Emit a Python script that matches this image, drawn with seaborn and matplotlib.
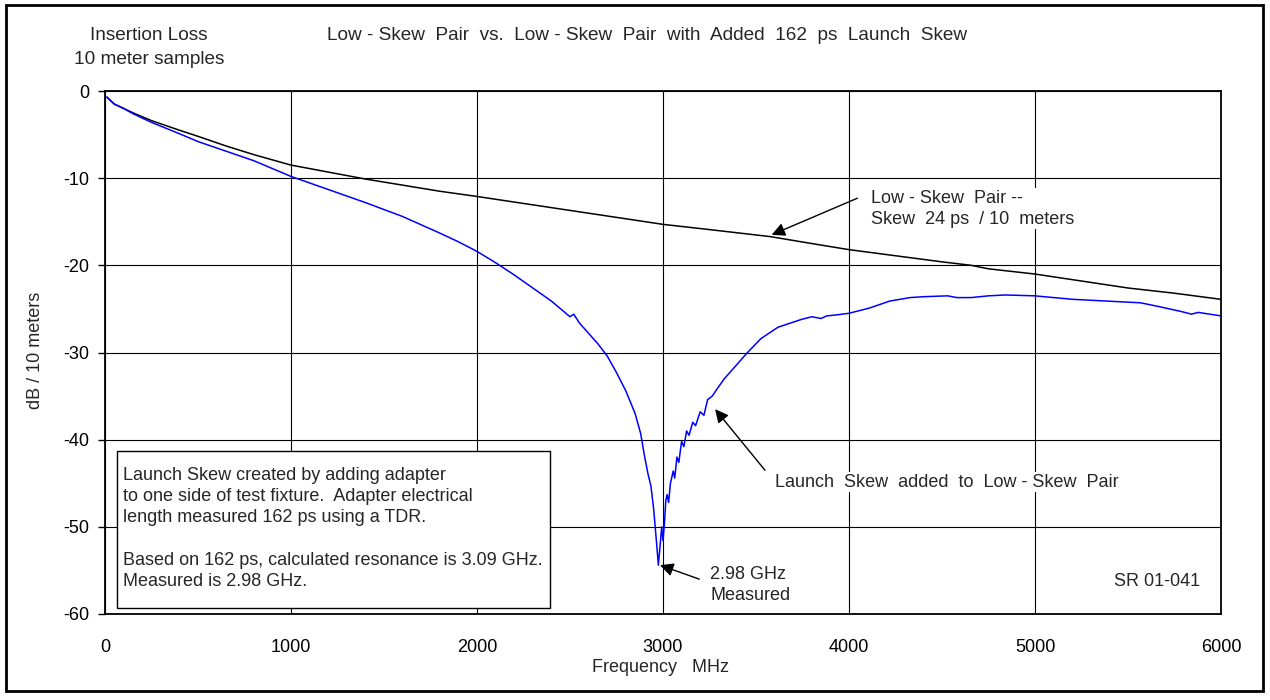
import matplotlib
matplotlib.use('Agg')
import matplotlib.pyplot as plt
from matplotlib.patches import Rectangle
import pandas as pd
import seaborn as sns

# Low-Skew pair (black trace)
pair_freq = [10, 50, 100, 150, 250, 400, 500, 650, 800, 1000, 1200, 1400, 1600, 1800,
             2000, 2250, 2500, 2750, 3000, 3250, 3575, 3800, 4000, 4250, 4500, 4657,
             4750, 5000, 5250, 5500, 5750, 6000]
pair_db = [-0.7, -1.5, -2.0, -2.5, -3.4, -4.5, -5.2, -6.3, -7.3, -8.5, -9.3, -10.1, -10.8, -11.5,
           -12.1, -12.9, -13.7, -14.5, -15.3, -15.9, -16.7, -17.5, -18.2, -18.9, -19.6, -20.0,
           -20.4, -21.0, -21.8, -22.6, -23.2, -23.9]

# same pair with added 162 ps launch skew (blue trace)
skew_freq = [10, 50, 100, 150, 250, 400, 500, 650, 800, 1000, 1200, 1400, 1600, 1800, 1900,
             2000, 2100, 2200, 2300, 2400, 2450, 2500, 2520, 2550, 2600, 2650, 2700, 2750,
             2800, 2850, 2880, 2900, 2920, 2935, 2950, 2960, 2968, 2975, 2985, 2993, 3000,
             3008, 3015, 3022, 3030, 3040, 3055, 3063, 3075, 3085, 3100, 3112, 3127, 3140,
             3160, 3175, 3200, 3220, 3240, 3265, 3290, 3330, 3380, 3450, 3527, 3618, 3745,
             3800, 3850, 3880, 3928, 4000, 4110, 4219, 4329, 4400, 4530, 4580, 4657, 4750,
             4839, 5000, 5100, 5204, 5386, 5568, 5659, 5787, 5841, 5878, 6000]
skew_db = [-0.7, -1.5, -2.0, -2.6, -3.6, -4.9, -5.8, -6.9, -8.0, -9.8, -11.3, -12.8, -14.4, -16.3, -17.3,
           -18.4, -19.7, -21.1, -22.6, -24.1, -25.0, -25.9, -25.6, -26.6, -27.8, -29.0, -30.4, -32.3,
           -34.4, -37.0, -39.3, -41.8, -44.0, -45.3, -48.0, -50.5, -52.5, -54.4, -52.0, -50.0, -51.6,
           -49.5, -47.0, -46.3, -47.2, -45.0, -43.6, -44.4, -42.0, -42.6, -40.2, -40.8, -39.0, -39.5,
           -38.0, -38.4, -36.8, -37.2, -35.4, -35.0, -34.2, -33.0, -31.8, -30.1, -28.4, -27.1, -26.2,
           -25.9, -26.1, -25.8, -25.7, -25.5, -24.9, -24.1, -23.7, -23.6, -23.5, -23.7, -23.7, -23.5,
           -23.4, -23.5, -23.7, -23.9, -24.1, -24.3, -24.7, -25.3, -25.6, -25.4, -25.8]

x_ticks = [0, 1000, 2000, 3000, 4000, 5000, 6000]
y_ticks = [0, -10, -20, -30, -40, -50, -60]

pair = pd.DataFrame({'freq': pair_freq, 'db': pair_db})
skew = pd.DataFrame({'freq': skew_freq, 'db': skew_db})

sns.set_style('white')
plt.rcParams['font.family'] = ['Liberation Sans', 'DejaVu Sans']
fs = 13
fs_title = 13.7

W, H = 1270, 700
fig = plt.figure(figsize=(12.7, 7.0), dpi=100)
ax = fig.add_axes([105 / W, 1 - 614 / H, 1116 / W, 523 / H])

sns.lineplot(data=pair, x='freq', y='db', ax=ax, color='black', lw=1.1, zorder=3)
sns.lineplot(data=skew, x='freq', y='db', ax=ax, color='#0000ff', lw=1.1, zorder=4)

ax.set_xlim(0, 6000)
ax.set_ylim(-60, 0)
ax.set_xticks(x_ticks)
ax.set_yticks(y_ticks)
ax.set_xticklabels([str(v) for v in x_ticks], fontsize=fs)
ax.set_yticklabels([str(v) for v in y_ticks], fontsize=fs)
ax.tick_params(axis='x', direction='out', length=0, pad=18, colors='black')
ax.tick_params(axis='y', direction='out', length=5, width=1, pad=6, colors='black', left=True)
ax.grid(True, color='black', lw=0.8, zorder=1)
ax.set_axisbelow(True)
for s in ax.spines.values():
    s.set_visible(True)
    s.set_color('black')
    s.set_linewidth(1.3)
ax.set_xlabel('')
ax.set_ylabel('')

# labels and titles
fig.text(149 / W, 1 - 35 / H, 'Insertion Loss', ha='center', va='center', fontsize=fs_title)
fig.text(149 / W, 1 - 59 / H, '10 meter samples', ha='center', va='center', fontsize=fs_title)
fig.text(327 / W, 1 - 36 / H,
         'Low - Skew  Pair  vs.  Low - Skew  Pair  with  Added  162  ps  Launch  Skew',
         ha='left', va='center', fontsize=fs_title)
fig.text(35 / W, 1 - 350 / H, 'dB / 10 meters', rotation=90, ha='center', va='center', fontsize=fs)
fig.text(660 / W, 1 - 668 / H, 'Frequency   MHz', ha='center', va='center', fontsize=fs)

# annotations
arrow = dict(arrowstyle='-|>', color='black', lw=1.0, mutation_scale=20, shrinkA=0, shrinkB=0)
white = dict(fc='white', ec='none', pad=1)
ax.annotate('', xy=(3584, -16.5), xytext=(4045, -12.3), arrowprops=arrow, zorder=6)
ax.text(4120, -13.5, 'Low - Skew  Pair --\nSkew  24 ps  / 10  meters', ha='left', va='center',
        fontsize=fs, linespacing=1.3, bbox=white, zorder=5)
ax.annotate('', xy=(3280, -36.5), xytext=(3548, -43.5), arrowprops=arrow, zorder=6)
ax.text(3602, -44.9, 'Launch  Skew  added  to  Low - Skew  Pair', ha='left', va='center',
        fontsize=fs, bbox=white, zorder=5)
ax.annotate('', xy=(2984, -54.4), xytext=(3195, -56.0), arrowprops=arrow, zorder=6)
ax.text(3253, -56.7, '2.98 GHz\nMeasured', ha='left', va='center', fontsize=fs,
        linespacing=1.3, bbox=white, zorder=5)
ax.text(5887, -56.3, 'SR 01-041', ha='right', va='center', fontsize=fs, zorder=5)

# note box
ax.add_patch(Rectangle((63, -59.3), 2392 - 63, 18.0, fc='white', ec='black', lw=1.0, zorder=5))
ax.text(98, -50.2,
        'Launch Skew created by adding adapter\n'
        'to one side of test fixture.  Adapter electrical\n'
        'length measured 162 ps using a TDR.\n'
        '\n'
        'Based on 162 ps, calculated resonance is 3.09 GHz.\n'
        'Measured is 2.98 GHz.',
        ha='left', va='center', fontsize=fs, linespacing=1.33, zorder=6)

# outer frame
fig.patches.append(Rectangle((6 / W, 1 - 691 / H), 1257 / W, 686 / H, transform=fig.transFigure,
                             fill=False, ec='black', lw=2.0))

fig.savefig('out.png', dpi=100)
